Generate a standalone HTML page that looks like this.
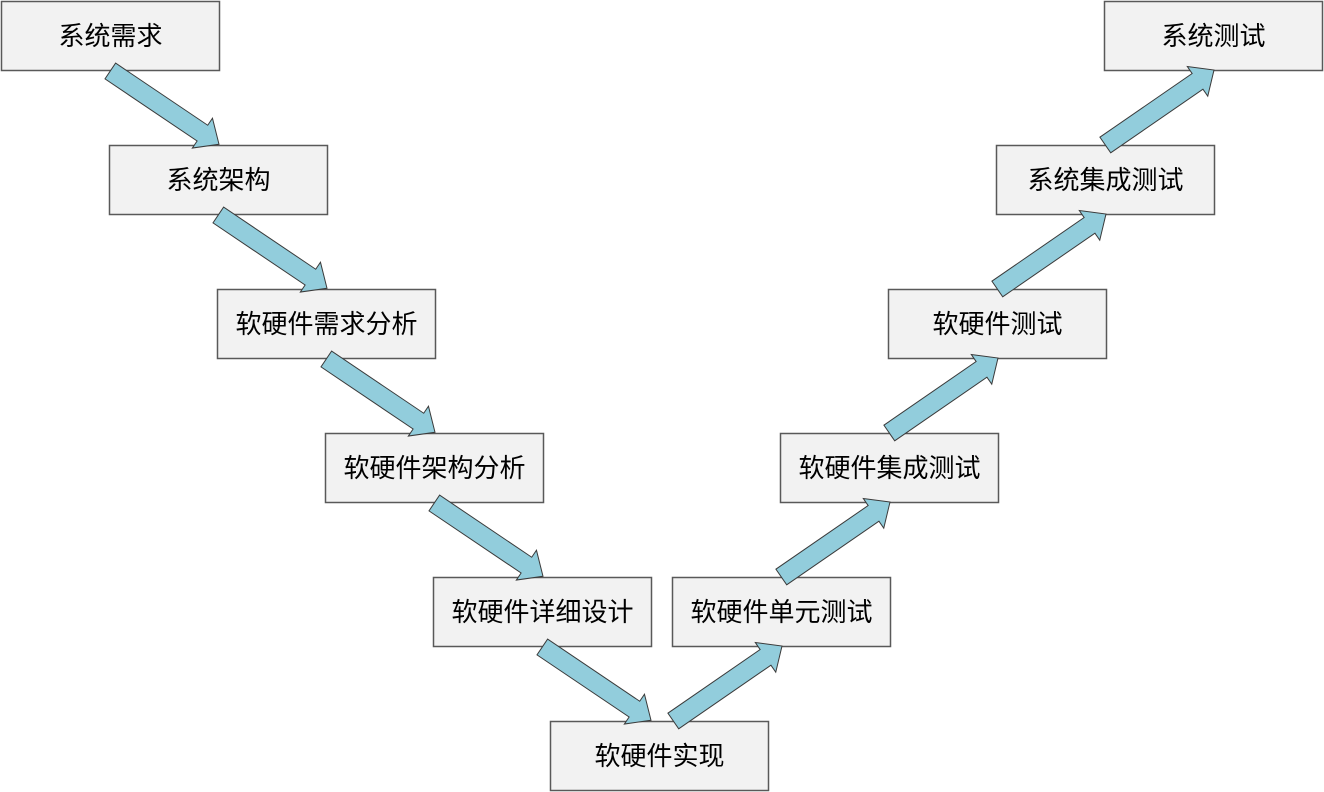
<!DOCTYPE html>
<html>
<head>
<meta charset="utf-8">
<style>
  html, body { margin: 0; padding: 0; background: #ffffff; }
  body { width: 1324px; height: 792px; overflow: hidden; }
  svg { display: block; }
  text { font-family: "Liberation Sans", "Noto Sans CJK SC", "WenQuanYi Zen Hei", sans-serif; font-size: 26px; fill: #000; }
</style>
</head>
<body>
<svg width="1324" height="792" viewBox="0 0 1324 792" xmlns="http://www.w3.org/2000/svg">
  <defs>
    <polygon id="ad" points="-5.31,7.88 86.80,70.00 82.05,77.04 108.7,73.3 102.17,47.20 97.42,54.24 5.31,-7.88" />
    <polygon id="au" points="5.40,7.82 97.64,-55.82 102.46,-48.82 108.7,-75 82.02,-78.46 86.84,-71.46 -5.40,-7.82" />
  </defs>
  <g fill="#f2f2f2" stroke="#595959" stroke-width="1.5">
    <rect x="1.5" y="1.5" width="218" height="69"/>
    <rect x="109.5" y="145.5" width="218" height="69"/>
    <rect x="217.5" y="289.5" width="218" height="69"/>
    <rect x="325.5" y="433.5" width="218" height="69"/>
    <rect x="433.5" y="577.5" width="218" height="69"/>
    <rect x="550.5" y="721.5" width="218" height="69"/>
    <rect x="672.5" y="577.5" width="218" height="69"/>
    <rect x="780.5" y="433.5" width="218" height="69"/>
    <rect x="888.5" y="289.5" width="218" height="69"/>
    <rect x="996.5" y="145.5" width="218" height="69"/>
    <rect x="1104.5" y="1.5" width="218" height="69"/>
  </g>
  <g text-anchor="middle" dominant-baseline="central">
    <text x="110.5" y="36">系统需求</text>
    <text x="218.5" y="180">系统架构</text>
    <text x="326.5" y="324">软硬件需求分析</text>
    <text x="434.5" y="468">软硬件架构分析</text>
    <text x="542.5" y="612">软硬件详细设计</text>
    <text x="659.5" y="756">软硬件实现</text>
    <text x="781.5" y="612">软硬件单元测试</text>
    <text x="889.5" y="468">软硬件集成测试</text>
    <text x="997.5" y="324">软硬件测试</text>
    <text x="1105.5" y="180">系统集成测试</text>
    <text x="1213.5" y="36">系统测试</text>
  </g>
  <g fill="#92cddc" stroke="#3a3a3a" stroke-width="1" stroke-linejoin="miter">
    <use href="#ad" transform="translate(110.3,71)"/>
    <use href="#ad" transform="translate(218.3,215)"/>
    <use href="#ad" transform="translate(326.3,359)"/>
    <use href="#ad" transform="translate(434.3,503)"/>
    <use href="#ad" transform="translate(542.3,647)"/>
    <use href="#au" transform="translate(673.3,721)"/>
    <use href="#au" transform="translate(781.3,577)"/>
    <use href="#au" transform="translate(889.3,433)"/>
    <use href="#au" transform="translate(997.3,289)"/>
    <use href="#au" transform="translate(1105.3,145)"/>
  </g>
</svg>
</body>
</html>
